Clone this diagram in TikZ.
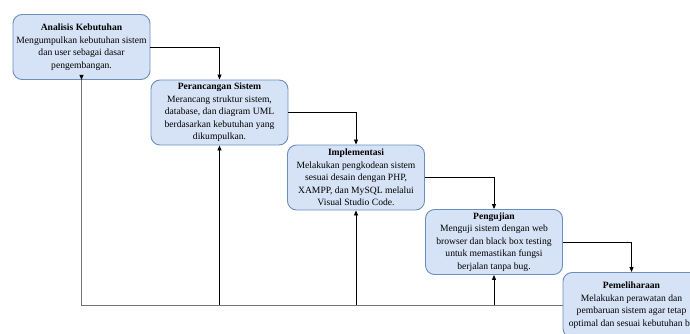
\documentclass[tikz,border=0pt]{standalone}
\usepackage{fontspec}
\setmainfont{Liberation Serif}
\usetikzlibrary{arrows.meta,calc}
\definecolor{stagefill}{RGB}{214,227,246}
\definecolor{stageborder}{RGB}{108,142,191}
\begin{document}
\begin{tikzpicture}[x=1pt,y=-1pt,
 stage/.style={draw=stageborder, fill=stagefill, rounded corners=9pt, line width=0.9pt,
   minimum width=137pt, minimum height=65pt, align=center, inner sep=2pt,
   font=\fontsize{9.6}{12.5}\selectfont},
 flow/.style={-{Triangle[length=5pt,width=4pt]}, line width=0.8pt, black},
 back/.style={line width=1pt, black!55}]
\useasboundingbox (0,0) rectangle (690,334);
\clip (0,0) rectangle (690,334);
\node[stage] (a) at (81.5,47) {\textbf{Analisis Kebutuhan}\\Mengumpulkan kebutuhan sistem\\dan user sebagai dasar\\pengembangan.};
\node[stage] (b) at (219.5,112.5) {\textbf{Perancangan Sistem}\\Merancang struktur sistem,\\database, dan diagram UML\\berdasarkan kebutuhan yang\\dikumpulkan.};
\node[stage] (c) at (356,177.5) {\textbf{Implementasi}\\Melakukan pengkodean sistem\\sesuai desain dengan PHP,\\XAMPP, dan MySQL melalui\\Visual Studio Code.};
\node[stage] (d) at (494,242) {\textbf{Pengujian}\\Menguji sistem dengan web\\browser dan black box testing\\untuk memastikan fungsi\\berjalan tanpa bug.};
\node[stage] (e) at (631.5,305) {\textbf{Pemeliharaan}\\Melakukan perawatan dan\\pembaruan sistem agar tetap\\optimal dan sesuai kebutuhan ba};
\draw[flow] (a.east) -| (b.north);
\draw[flow] (b.east) -| (c.north);
\draw[flow] (c.east) -| (d.north);
\draw[flow] (d.east) -| (e.north);
\draw[back] (e.west) -| (a.south);
\draw[flow] ($(a.south)+(0,-4)$) -- (a.south);
\coordinate (jb) at (b |- e.west);
\coordinate (jc) at (c |- e.west);
\coordinate (jd) at (d |- e.west);
\draw[flow] (jb) -- (b.south);
\draw[flow] (jc) -- (c.south);
\draw[flow] (jd) -- (d.south);
\end{tikzpicture}
\end{document}
